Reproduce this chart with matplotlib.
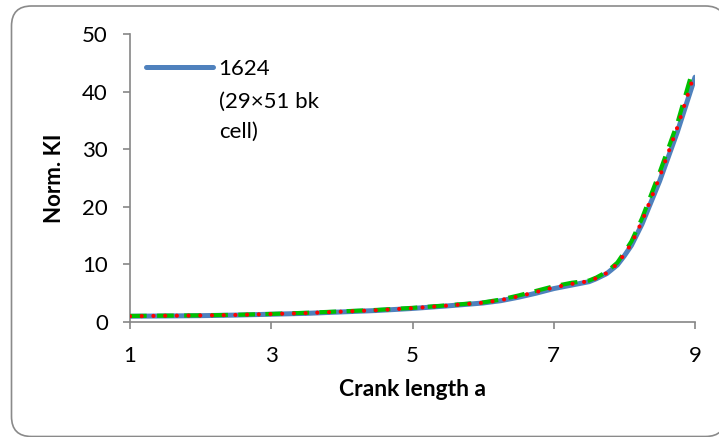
import matplotlib
matplotlib.use("Agg")
import matplotlib.pyplot as plt
import matplotlib.patches as mpatches
from matplotlib.transforms import IdentityTransform

# data
x_blue = [1, 1.5, 2, 2.5, 3, 3.5, 4, 4.5, 5, 5.5, 6, 6.25, 6.5, 6.75, 7,
          7.25, 7.5, 7.6, 7.75, 7.9, 8, 8.1, 8.25, 8.5, 8.75, 9]
y_blue = [1.0, 1.05, 1.1, 1.2, 1.35, 1.5, 1.75, 2.0, 2.35, 2.8, 3.3, 3.7,
          4.3, 5.0, 5.8, 6.4, 7.0, 7.5, 8.4, 9.9, 11.5, 13.3, 17.0, 24.5,
          33.0, 42.5]

x_green = [1, 1.5, 2, 2.5, 3, 3.5, 4, 4.5, 5, 5.5, 6, 6.25, 6.5, 6.75, 7,
           7.25, 7.5, 7.6, 7.75, 7.9, 8, 8.1, 8.25, 8.5, 8.75, 8.95]
y_green = [1.05, 1.1, 1.15, 1.25, 1.4, 1.6, 1.85, 2.1, 2.45, 2.9, 3.4, 3.9,
           4.6, 5.4, 6.2, 6.8, 7.2, 7.7, 8.7, 10.3, 12.1, 14.0, 18.0, 26.0,
           34.5, 43.0]

x_red = [1, 1.5, 2, 2.5, 3, 3.5, 4, 4.5, 5, 5.5, 6, 6.25, 6.5, 6.75, 7,
         7.25, 7.5, 7.6, 7.75, 7.9, 8, 8.1, 8.25, 8.5, 8.75, 8.95]
y_red = [1.0, 1.08, 1.13, 1.22, 1.38, 1.55, 1.8, 2.05, 2.4, 2.85, 3.35, 3.8,
         4.45, 5.2, 6.0, 6.6, 7.1, 7.6, 8.5, 10.1, 11.8, 13.6, 17.5, 25.2,
         33.8, 41.5]

x_ticks = [1, 3, 5, 7, 9]
y_ticks = [0, 10, 20, 30, 40, 50]

plt.rcParams['font.family'] = ['Lato', 'DejaVu Sans']
fs = 16

fig = plt.figure(figsize=(7.19, 4.37), dpi=100)
ax = fig.add_axes([130 / 719, 1 - 322 / 437, 565 / 719, 288 / 437])

# rounded chart frame
frame = mpatches.FancyBboxPatch((11.5, 0.5), 714, 430.5,
                                boxstyle="round,pad=0,rounding_size=20",
                                transform=IdentityTransform(),
                                facecolor="white", edgecolor="#8a8a8a",
                                linewidth=1.2, zorder=-10)
fig.patches.append(frame)

ax.plot(x_blue, y_blue, color="#4F81BD", lw=3.6, solid_capstyle="round",
        label="1624", zorder=2)
ax.plot(x_green, y_green, color="#00C000", lw=3.0, linestyle=(0, (4, 2.5)),
        zorder=3)
ax.plot(x_red, y_red, color="#FF0000", lw=3.0, linestyle=(0, (0.01, 2.8)),
        dash_capstyle="round", zorder=4)

ax.set_xlim(1, 9)
ax.set_ylim(0, 50)
ax.set_xticks(x_ticks)
ax.set_yticks(y_ticks)
ax.tick_params(axis="both", labelsize=fs, color="#868686", length=5,
               width=1.2, direction="out")
ax.tick_params(axis="x", pad=12)
ax.tick_params(axis="y", pad=11)
for s in ["top", "right"]:
    ax.spines[s].set_visible(False)
for s in ["left", "bottom"]:
    ax.spines[s].set_color("#868686")
    ax.spines[s].set_linewidth(1.2)

ax.set_xlabel("Crank length a", fontsize=fs + 0.5, fontweight="bold",
              labelpad=10)
ax.set_ylabel("Norm. KI", fontsize=fs, fontweight="bold", labelpad=12)

leg = ax.legend(loc="center left", bbox_to_anchor=(0.0126, 0.878),
                frameon=False, fontsize=fs, handlelength=3.0,
                handletextpad=0.27, borderaxespad=0)
ax.text(0.1575, 0.799, "(29×51 bk\ncell)", transform=ax.transAxes,
        fontsize=fs, va="top", ha="left", linespacing=1.65)

fig.savefig("out.png", dpi=100)
